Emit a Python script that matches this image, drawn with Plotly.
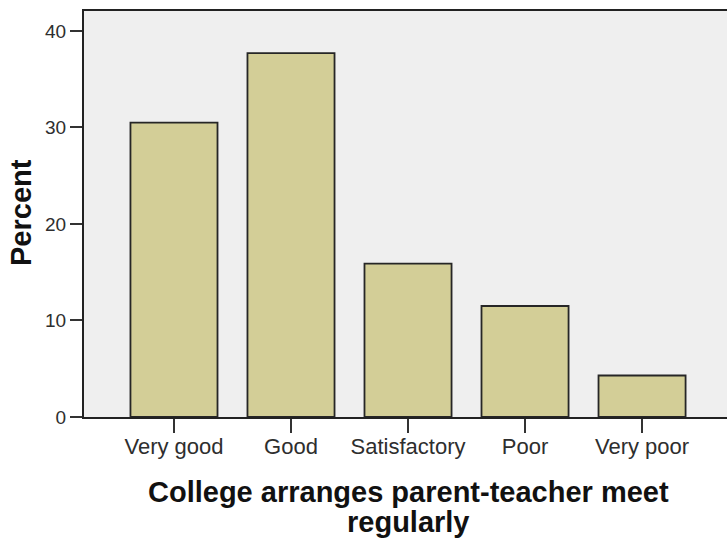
import plotly.graph_objects as go

# Survey responses: "College arranges parent-teacher meet regularly"
categories = ["Very good", "Good", "Satisfactory", "Poor", "Very poor"]
percent = [30.5, 37.7, 15.9, 11.5, 4.3]
y_ticks = [0, 10, 20, 30, 40]

W, H = 727, 540
L, R, T, B = 84, 0, 11, 123
plot_w = W - L - R
plot_h = H - T - B


def px_to_paper_x(px):
    return (px - L) / plot_w


def px_to_paper_y(py):
    return (H - B - py) / plot_h


fig = go.Figure(
    go.Bar(
        x=list(range(len(categories))),
        y=percent,
        width=0.744,
        marker=dict(color="#d3ce97", line=dict(color="#262626", width=1.8)),
        hoverinfo="skip",
    )
)

fig.update_layout(
    width=W,
    height=H,
    margin=dict(l=L, r=R, t=T, b=B, pad=0),
    paper_bgcolor="white",
    plot_bgcolor="#efefef",
    showlegend=False,
    font=dict(family="Liberation Sans, Arial, sans-serif", color="#2a2a2a"),
)

fig.update_xaxes(
    range=[-0.769, 4.726],
    tickmode="array",
    tickvals=list(range(len(categories))),
    ticktext=categories,
    ticks="outside",
    ticklen=14,
    tickwidth=1.5,
    tickcolor="#333333",
    tickfont=dict(size=22, color="#2e2e2e"),
    ticklabelstandoff=-5,
    showline=True,
    linecolor="#222222",
    linewidth=2,
    mirror=True,
    showgrid=False,
    zeroline=False,
    fixedrange=True,
)

fig.update_yaxes(
    range=[0, 42.07],
    tickmode="array",
    tickvals=y_ticks,
    ticks="outside",
    ticklen=12,
    tickwidth=1.5,
    tickcolor="#333333",
    tickfont=dict(size=19, color="#2e2e2e"),
    showline=True,
    linecolor="#222222",
    linewidth=2,
    mirror=False,
    showgrid=False,
    zeroline=False,
    fixedrange=True,
)

title_font = dict(family="Liberation Sans, Arial, sans-serif", size=29, color="#111111")

fig.add_annotation(
    text="<b>Percent</b>",
    xref="paper", yref="paper",
    x=px_to_paper_x(21), y=px_to_paper_y(213),
    xanchor="center", yanchor="middle",
    textangle=-90, showarrow=False, font=title_font,
)
fig.add_annotation(
    text="<b>College arranges parent-teacher meet</b>",
    xref="paper", yref="paper",
    x=px_to_paper_x(408), y=px_to_paper_y(492),
    xanchor="center", yanchor="middle",
    showarrow=False, font=title_font,
)
fig.add_annotation(
    text="<b>regularly</b>",
    xref="paper", yref="paper",
    x=px_to_paper_x(408), y=px_to_paper_y(522),
    xanchor="center", yanchor="middle",
    showarrow=False, font=title_font,
)

fig.write_html("out.html")
